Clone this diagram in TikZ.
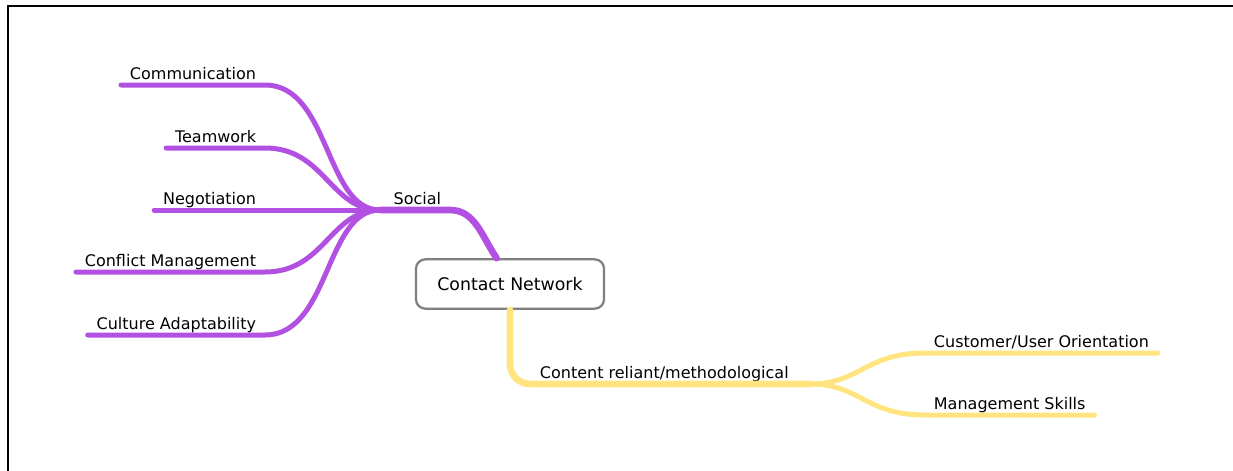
\documentclass[tikz,border=0pt]{standalone}
\usepackage{fontspec}
\setmainfont{DejaVu Sans}
\definecolor{socialpurple}{RGB}{178,80,226}
\definecolor{contentyellow}{RGB}{255,228,128}
\tikzset{
  leaf/.style={inner xsep=6.5pt, inner ysep=4pt, text depth=0pt, font=\fontsize{12}{14}\selectfont},
  purplebranch/.style={draw=socialpurple, line width=3.75pt, line cap=round},
  yellowbranch/.style={draw=contentyellow, line width=3.75pt, line cap=round},
}
\begin{document}
\begin{tikzpicture}[x=0.75pt, y=-0.75pt]
\useasboundingbox (0,0) rectangle (1233,471);
% frame
\draw[line width=1.5pt] (8,471) -- (8,6) -- (1233,6);

% central topic
\node[draw=gray, line width=1.7pt, rounded corners=7pt, minimum width=141pt, minimum height=37pt,
      font=\fontsize{13}{15}\selectfont] (contact) at (510,284) {Contact Network};

\coordinate (socialhub) at (380,210);
\coordinate (contenthub) at (810,384);

\node[leaf, anchor=south east] (social) at (450,210) {Social};
\node[leaf, anchor=south east] (communication) at (265,85) {Communication};
\node[leaf, anchor=south east] (teamwork) at (265,148) {Teamwork};
\node[leaf, anchor=south east] (negotiation) at (265,210) {Negotiation};
\node[leaf, anchor=south east] (conflict) at (265,272) {Conflict Management};
\node[leaf, anchor=south east] (culture) at (265,335) {Culture Adaptability};

\node[leaf, anchor=south west] (content) at (531,384) {Content reliant/methodological};
\node[leaf, anchor=south west] (customer) at (925,353) {Customer/User Orientation};
\node[leaf, anchor=south west] (management) at (925,415) {Management Skills};

% social side
\draw[purplebranch, line width=5pt] (socialhub) -- (social.south east)
  .. controls +(25,0) and +(-15,-22) .. ([xshift=-10pt]contact.north);
\draw[purplebranch] (communication.south west) -- (communication.south east)
  .. controls +(65,0) and +(-55,0) .. (socialhub);
\draw[purplebranch] (teamwork.south west) -- (teamwork.south east)
  .. controls +(60,0) and +(-50,0) .. (socialhub);
\draw[purplebranch] (negotiation.south west) -- (socialhub);
\draw[purplebranch] (conflict.south west) -- (conflict.south east)
  .. controls +(60,0) and +(-50,0) .. (socialhub);
\draw[purplebranch] (culture.south west) -- (culture.south east)
  .. controls +(65,0) and +(-55,0) .. (socialhub);

% content side
\draw[yellowbranch, line width=5pt, rounded corners=15pt] (contact.south) |- (contenthub);
\draw[yellowbranch] (contenthub) .. controls +(50,0) and +(-60,0) .. (customer.south west)
  -- (customer.south east);
\draw[yellowbranch] (contenthub) .. controls +(50,0) and +(-60,0) .. (management.south west)
  -- (management.south east);
\end{tikzpicture}
\end{document}
